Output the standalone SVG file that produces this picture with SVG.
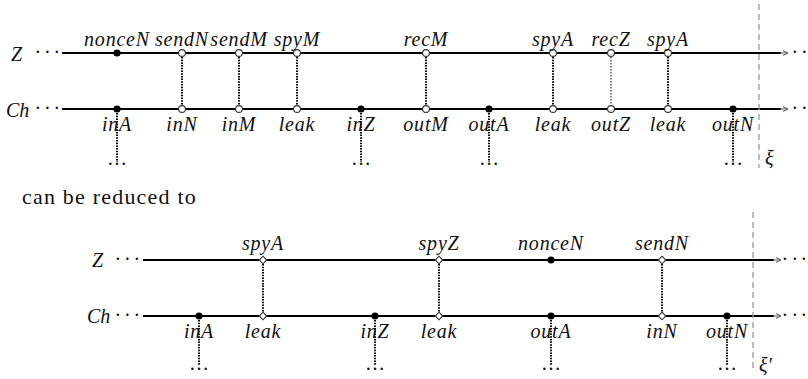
<svg xmlns="http://www.w3.org/2000/svg" width="808" height="379" viewBox="0 0 808 379">
<defs>
<style>
text{font-family:"Liberation Serif","Times New Roman",serif;fill:#111}
.lbl{font-style:italic;font-size:20px;letter-spacing:0.8px;text-anchor:middle}
.side{font-style:italic;font-size:20px}
.dots{font-size:20px}
.bdots{font-size:20px;text-anchor:middle}
.prose{font-size:22px;letter-spacing:1.2px}
.tl{stroke:#000;stroke-width:2.2;fill:none}
.tip{stroke:#555;stroke-width:1;fill:none}
.dash{stroke:#999;stroke-width:1.3;stroke-dasharray:6 4;fill:none}
.con{stroke:#000;stroke-width:2;stroke-dasharray:1.5 1.2;fill:none}
.conthin{stroke:#000;stroke-width:1;stroke-dasharray:1.5 1.5;fill:none}
.open{fill:#fff;stroke:#333;stroke-width:1.1}
.full{fill:#000}
</style>
<marker id="arr" markerWidth="8" markerHeight="8" refX="6" refY="4" orient="auto" markerUnits="userSpaceOnUse">
<path d="M1,1.5 L6,4 L1,6.5" class="tip"/>
</marker>
</defs>
<rect width="808" height="379" fill="#fff"/>

<!-- Top diagram -->
<g id="top-timelines">
<text class="side" x="11" y="61">Z</text>
<text class="dots" x="34.5 44 53.5" y="59">···</text>
<text class="side" x="6" y="117">Ch</text>
<text class="dots" x="34.5 44 53.5" y="115">···</text>
<line class="tl" x1="62" y1="53" x2="781" y2="53"/>
<line class="tip" x1="780" y1="53" x2="788" y2="53" marker-end="url(#arr)"/>
<text class="dots" x="791.5 801" y="59">··</text>
<line class="tl" x1="62" y1="109" x2="781" y2="109"/>
<line class="tip" x1="780" y1="109" x2="788" y2="109" marker-end="url(#arr)"/>
<text class="dots" x="791.5 801" y="115">··</text>
<line class="dash" x1="759" y1="4" x2="759" y2="168"/>
<text class="side" x="765" y="165">ξ</text>
</g>

<g id="top-connectors">
<line class="con" x1="182" y1="57" x2="182" y2="105"/>
<line class="con" x1="239" y1="57" x2="239" y2="105"/>
<line class="con" x1="297" y1="57" x2="297" y2="105"/>
<line class="con" x1="426" y1="57" x2="426" y2="105"/>
<line class="con" x1="553" y1="57" x2="553" y2="105"/>
<line class="conthin" x1="611" y1="57" x2="611" y2="105"/>
<line class="con" x1="668" y1="57" x2="668" y2="105"/>
<line class="con" x1="117" y1="113" x2="117" y2="162"/>
<line class="con" x1="361" y1="113" x2="361" y2="162"/>
<line class="con" x1="489" y1="113" x2="489" y2="162"/>
<line class="con" x1="733" y1="113" x2="733" y2="162"/>
</g>

<g id="t-nonceN"><circle class="full" cx="117" cy="53" r="3.6"/><text class="lbl" x="117" y="46">nonceN</text></g>
<g id="t-sendN"><circle class="open" cx="182" cy="53" r="3.4"/><text class="lbl" x="182" y="46">sendN</text></g>
<g id="t-sendM"><circle class="open" cx="239" cy="53" r="3.4"/><text class="lbl" x="239" y="46">sendM</text></g>
<g id="t-spyM"><circle class="open" cx="297" cy="53" r="3.4"/><text class="lbl" x="297" y="46">spyM</text></g>
<g id="t-recM"><circle class="open" cx="426" cy="53" r="3.4"/><text class="lbl" x="426" y="46">recM</text></g>
<g id="t-spyA1"><circle class="open" cx="553" cy="53" r="3.4"/><text class="lbl" x="553" y="46">spyA</text></g>
<g id="t-recZ"><circle class="open" cx="611" cy="53" r="3.4"/><text class="lbl" x="611" y="46">recZ</text></g>
<g id="t-spyA2"><circle class="open" cx="668" cy="53" r="3.4"/><text class="lbl" x="668" y="46">spyA</text></g>

<g id="t-inA"><circle class="full" cx="117" cy="109" r="3.6"/><text class="lbl" x="117" y="131">inA</text><text class="bdots" x="117" y="165">…</text></g>
<g id="t-inN"><circle class="open" cx="182" cy="109" r="3.4"/><text class="lbl" x="182" y="131">inN</text></g>
<g id="t-inM"><circle class="open" cx="239" cy="109" r="3.4"/><text class="lbl" x="239" y="131">inM</text></g>
<g id="t-leak1"><circle class="open" cx="297" cy="109" r="3.4"/><text class="lbl" x="297" y="131">leak</text></g>
<g id="t-inZ"><circle class="full" cx="361" cy="109" r="3.6"/><text class="lbl" x="361" y="131">inZ</text><text class="bdots" x="361" y="165">…</text></g>
<g id="t-outM"><circle class="open" cx="426" cy="109" r="3.4"/><text class="lbl" x="426" y="131">outM</text></g>
<g id="t-outA"><circle class="full" cx="489" cy="109" r="3.6"/><text class="lbl" x="489" y="131">outA</text><text class="bdots" x="489" y="165">…</text></g>
<g id="t-leak2"><circle class="open" cx="553" cy="109" r="3.4"/><text class="lbl" x="553" y="131">leak</text></g>
<g id="t-outZ"><circle class="open" cx="611" cy="109" r="3.4"/><text class="lbl" x="611" y="131">outZ</text></g>
<g id="t-leak3"><circle class="open" cx="668" cy="109" r="3.4"/><text class="lbl" x="668" y="131">leak</text></g>
<g id="t-outN"><circle class="full" cx="733" cy="109" r="3.6"/><text class="lbl" x="733" y="131">outN</text><text class="bdots" x="733" y="165">…</text></g>

<text class="prose" x="22" y="204">can be reduced to</text>

<!-- Bottom diagram -->
<g id="bottom-timelines">
<text class="side" x="92" y="267">Z</text>
<text class="dots" x="114.5 124 133.5" y="266">···</text>
<text class="side" x="87" y="323">Ch</text>
<text class="dots" x="114.5 124 133.5" y="322">···</text>
<line class="tl" x1="143" y1="260" x2="774" y2="260"/>
<line class="tip" x1="773" y1="260" x2="781" y2="260" marker-end="url(#arr)"/>
<text class="dots" x="781.5 791.5 800.5" y="266">···</text>
<line class="tl" x1="143" y1="316" x2="774" y2="316"/>
<line class="tip" x1="773" y1="316" x2="781" y2="316" marker-end="url(#arr)"/>
<text class="dots" x="781.5 791.5 800.5" y="322">···</text>
<line class="dash" x1="753" y1="212" x2="753" y2="370"/>
<text class="side" x="759" y="372">ξ′</text>
</g>

<g id="bottom-connectors">
<line class="con" x1="263" y1="264" x2="263" y2="312"/>
<line class="con" x1="439" y1="264" x2="439" y2="312"/>
<line class="con" x1="662" y1="264" x2="662" y2="312"/>
<line class="con" x1="199" y1="320" x2="199" y2="366"/>
<line class="con" x1="375" y1="320" x2="375" y2="366"/>
<line class="con" x1="551" y1="320" x2="551" y2="366"/>
<line class="con" x1="727" y1="320" x2="727" y2="366"/>
</g>

<g id="b-spyA"><path class="open" d="M263,256.2 L266.8,260 L263,263.8 L259.2,260 Z"/><text class="lbl" x="263" y="250">spyA</text></g>
<g id="b-spyZ"><path class="open" d="M439,256.2 L442.8,260 L439,263.8 L435.2,260 Z"/><text class="lbl" x="439" y="250">spyZ</text></g>
<g id="b-nonceN"><circle class="full" cx="551" cy="260" r="3.6"/><text class="lbl" x="551" y="250">nonceN</text></g>
<g id="b-sendN"><path class="open" d="M662,256.2 L665.8,260 L662,263.8 L658.2,260 Z"/><text class="lbl" x="662" y="250">sendN</text></g>

<g id="b-inA"><circle class="full" cx="199" cy="316" r="3.6"/><text class="lbl" x="199" y="338">inA</text><text class="bdots" x="199" y="370">…</text></g>
<g id="b-leak1"><path class="open" d="M263,312.2 L266.8,316 L263,319.8 L259.2,316 Z"/><text class="lbl" x="263" y="338">leak</text></g>
<g id="b-inZ"><circle class="full" cx="375" cy="316" r="3.6"/><text class="lbl" x="375" y="338">inZ</text><text class="bdots" x="375" y="370">…</text></g>
<g id="b-leak2"><path class="open" d="M439,312.2 L442.8,316 L439,319.8 L435.2,316 Z"/><text class="lbl" x="439" y="338">leak</text></g>
<g id="b-outA"><circle class="full" cx="551" cy="316" r="3.6"/><text class="lbl" x="551" y="338">outA</text><text class="bdots" x="551" y="370">…</text></g>
<g id="b-inN"><path class="open" d="M662,312.2 L665.8,316 L662,319.8 L658.2,316 Z"/><text class="lbl" x="662" y="338">inN</text></g>
<g id="b-outN"><circle class="full" cx="727" cy="316" r="3.6"/><text class="lbl" x="727" y="338">outN</text><text class="bdots" x="727" y="370">…</text></g>
</svg>
